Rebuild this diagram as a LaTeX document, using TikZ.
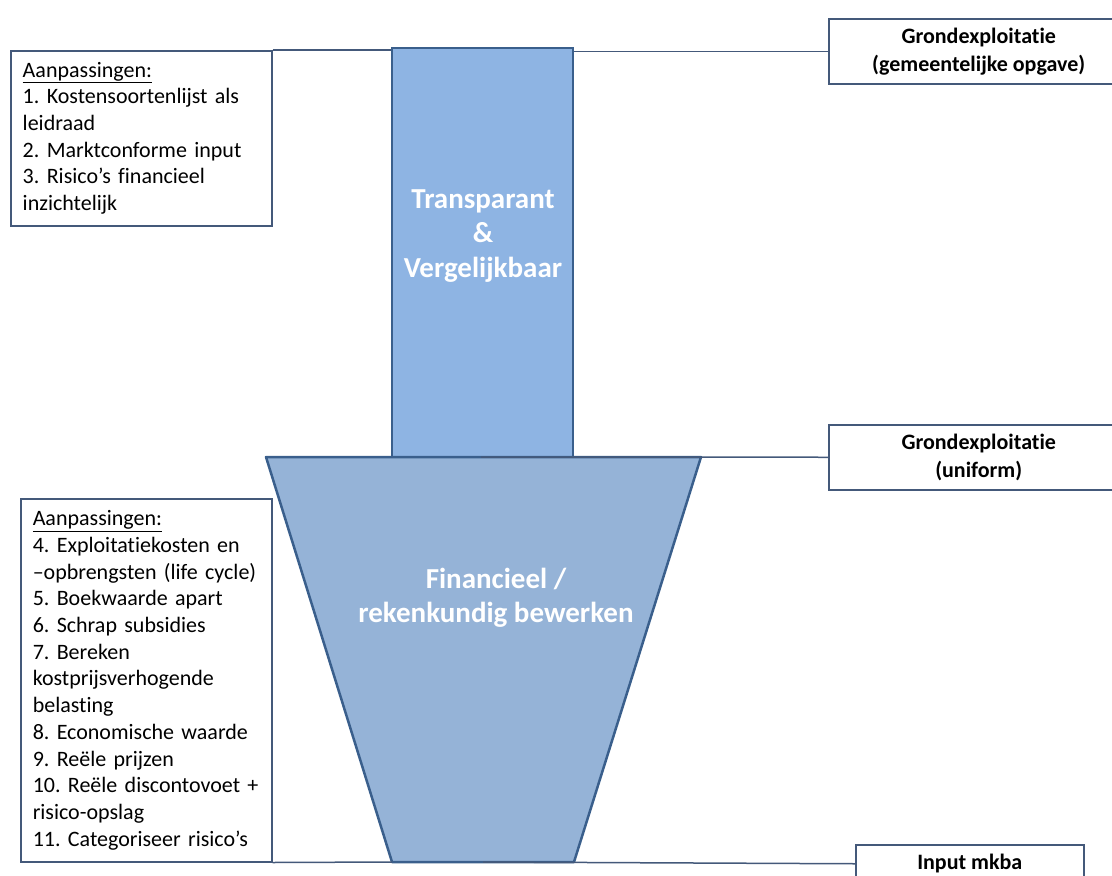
\documentclass[tikz,border=0pt]{standalone}
\usepackage{fontspec}
\setmainfont{Carlito}[Ligatures=NoCommon]
\usetikzlibrary{positioning}
\definecolor{barblue}{HTML}{8EB4E3}
\definecolor{funnelblue}{HTML}{95B3D7}
\definecolor{shapeline}{HTML}{3A5F8C}
\definecolor{boxline}{HTML}{44597A}
\frenchspacing

\begin{document}
\begin{tikzpicture}[x=1pt,y=-1pt,
  infobox/.style={draw=boxline, line width=1.5pt, fill=white, align=center, font=\fontsize{22}{28}\selectfont\bfseries},
  listbox/.style={draw=boxline, line width=1.5pt, fill=white, align=left, inner xsep=12pt, font=\fontsize{22}{26.7}\selectfont},
  bigtext/.style={text=white, align=center, font=\fontsize{29}{34.5}\selectfont\bfseries},
  link/.style={draw=boxline, line width=1.5pt}]
  \useasboundingbox (0,0) rectangle (1112,876);
  \clip (0,0) rectangle (1112,876);

  % bar on top
  \node[draw=shapeline, line width=2.5pt, fill=barblue, minimum width=181pt, minimum height=409pt] (transp) at (482.5,252.5) {};
  \node[bigtext] (transptext) at (483,236) {Transparant\\\&\\Vergelijkbaar};

  % funnel
  \coordinate (ftl) at (266,457);
  \coordinate (ftr) at (701,457);
  \coordinate (fbr) at (574,862);
  \coordinate (fbl) at (392,862);
  \coordinate (ftop) at (481,457);
  \coordinate (fbot) at (483,862);
  \filldraw[draw=shapeline, fill=funnelblue, line width=2.5pt, line join=round] (ftl) -- (ftr) -- (fbr) -- (fbl) -- cycle;
  \node[bigtext] (fintext) at (496,598) {Financieel /\\rekenkundig bewerken};

  % boxes
  \node[listbox, text width=237pt, minimum height=175pt, anchor=north west] (topbox) at (10,50)
    {\underline{Aanpassingen:}\\1. Kostensoortenlijst als\\leidraad\\2. Marktconforme input\\3. Risico’s financieel\\inzichtelijk};
  \node[listbox, text width=227pt, minimum height=363pt, anchor=north west] (lowbox) at (20,498)
    {\underline{Aanpassingen:}\\4. Exploitatiekosten en\\–opbrengsten (life cycle)\\5. Boekwaarde apart\\6. Schrap subsidies\\7. Bereken\\kostprijsverhogende\\belasting\\8. Economische waarde\\9. Reële prijzen\\10. Reële discontovoet +\\risico-opslag\\11. Categoriseer risico’s};
  \node[infobox, minimum width=300pt, minimum height=65pt, anchor=north west] (gemeente) at (828,18) {Grondexploitatie\\(gemeentelijke opgave)};
  \node[infobox, minimum width=300pt, minimum height=65pt, anchor=north west] (uniform) at (828,424) {Grondexploitatie\\(uniform)};
  \node[infobox, minimum width=228pt, minimum height=38pt, anchor=north west] (mkba) at (855,844) {Input mkba};

  % connectors
  \draw[link] (topbox.north east) -- (topbox.north east -| transp.west);
  \draw[link] (gemeente.west) -- (gemeente.west -| transp.east);
  \draw[link] (ftop) -- (uniform.west);
  \draw[link] (lowbox.south east) -- (fbl);
  \draw[link] (fbot) -- (mkba.west);
\end{tikzpicture}
\end{document}
